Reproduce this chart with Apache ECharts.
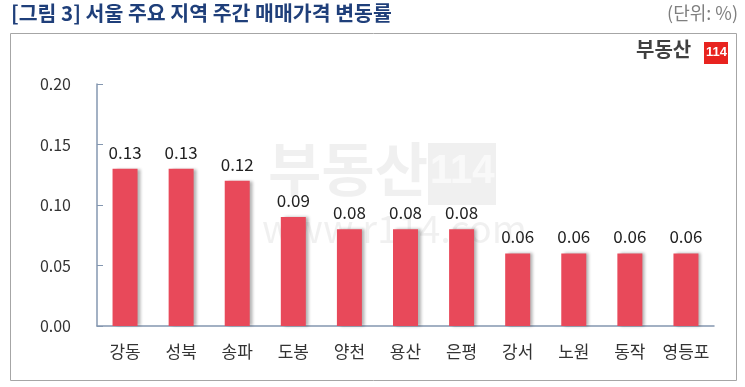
<!DOCTYPE html>
<html><head><meta charset="utf-8">
<script src="https://cdn.jsdelivr.net/npm/echarts@6/dist/echarts.min.js"></script>
<style>html,body{margin:0;padding:0;background:#fff}#c{width:745px;height:387px}</style>
</head><body><div id="c"></div>
<script>
const categories = ['강동','성북','송파','도봉','양천','용산','은평','강서','노원','동작','영등포'];
const values = [0.13,0.13,0.12,0.09,0.08,0.08,0.08,0.06,0.06,0.06,0.06];
const yTicks = [0, 0.05, 0.10, 0.15, 0.20];
const FONT = '"Noto Sans CJK KR", "Noto Sans", sans-serif';
const chart = echarts.init(document.getElementById('c'));
chart.setOption({
  animation: false,
  textStyle: {fontFamily: FONT},
  graphic: [
    {type:'rect', shape:{x:10.5,y:33.5,width:726,height:347}, style:{fill:'none', stroke:'#a6a6a6', lineWidth:1}, z:-1},
    {type:'text', left:11, top:3, style:{text:'[그림 3] 서울 주요 지역 주간 매매가격 변동률', font:'bold 20.5px '+FONT, fill:'#1f3f7a'}},
    {type:'text', right:7, top:4, style:{text:'(단위: %)', font:'18px '+FONT, fill:'#7f7f7f'}},
    {type:'text', left:636, top:39, style:{text:'부동산', font:'bold 20px '+FONT, fill:'#404040'}},
    {type:'rect', shape:{x:704,y:42,width:24,height:22}, style:{fill:'#e8231f'}},
    {type:'text', left:706, top:46, style:{text:'114', font:'bold 13px "Liberation Sans", sans-serif', fill:'#ffffff'}},
    {type:'text', left:268, top:140, z:-1, style:{text:'부동산', font:'bold 58px '+FONT, fill:'rgba(0,0,0,0.06)'}},
    {type:'rect', z:-1, shape:{x:428,y:143,width:68,height:62}, style:{fill:'rgba(0,0,0,0.06)'}},
    {type:'text', left:430, top:152, z:-1, style:{text:'114', font:'bold 40px "Liberation Sans", sans-serif', fill:'rgba(255,255,255,0.6)'}},
    {type:'text', left:262, top:210, z:-1, style:{text:'www.r114.com', font:'38px '+FONT, fill:'rgba(0,0,0,0.06)'}}
  ],
  grid: {left:97, right:31, top:84, bottom:61},
  xAxis: {
    type:'category', data:categories,
    axisLine:{lineStyle:{color:'#8497b0', width:1.5}},
    axisTick:{inside:true, length:5, lineStyle:{color:'#8497b0'}},
    axisLabel:{interval:0, color:'#333', fontSize:17, margin:17, fontFamily:FONT}
  },
  yAxis: {
    type:'value', min:yTicks[0], max:yTicks[yTicks.length-1], interval:0.05,
    splitLine:{show:false},
    axisLine:{show:true, lineStyle:{color:'#8497b0', width:1.5}},
    axisTick:{show:true, inside:true, length:6, lineStyle:{color:'#8497b0'}},
    axisLabel:{color:'#333', fontSize:16, margin:26, formatter:v=>v.toFixed(2), fontFamily:FONT}
  },
  series: [{
    type:'bar', data:values, barWidth:25,
    itemStyle:{color:'#e8495a', shadowColor:'rgba(0,0,0,0.3)', shadowOffsetX:3, shadowBlur:3},
    label:{show:true, position:'top', distance:8, color:'#222', fontSize:17, fontFamily:FONT, formatter:p=>p.value.toFixed(2)}
  }]
});
</script></body></html>
